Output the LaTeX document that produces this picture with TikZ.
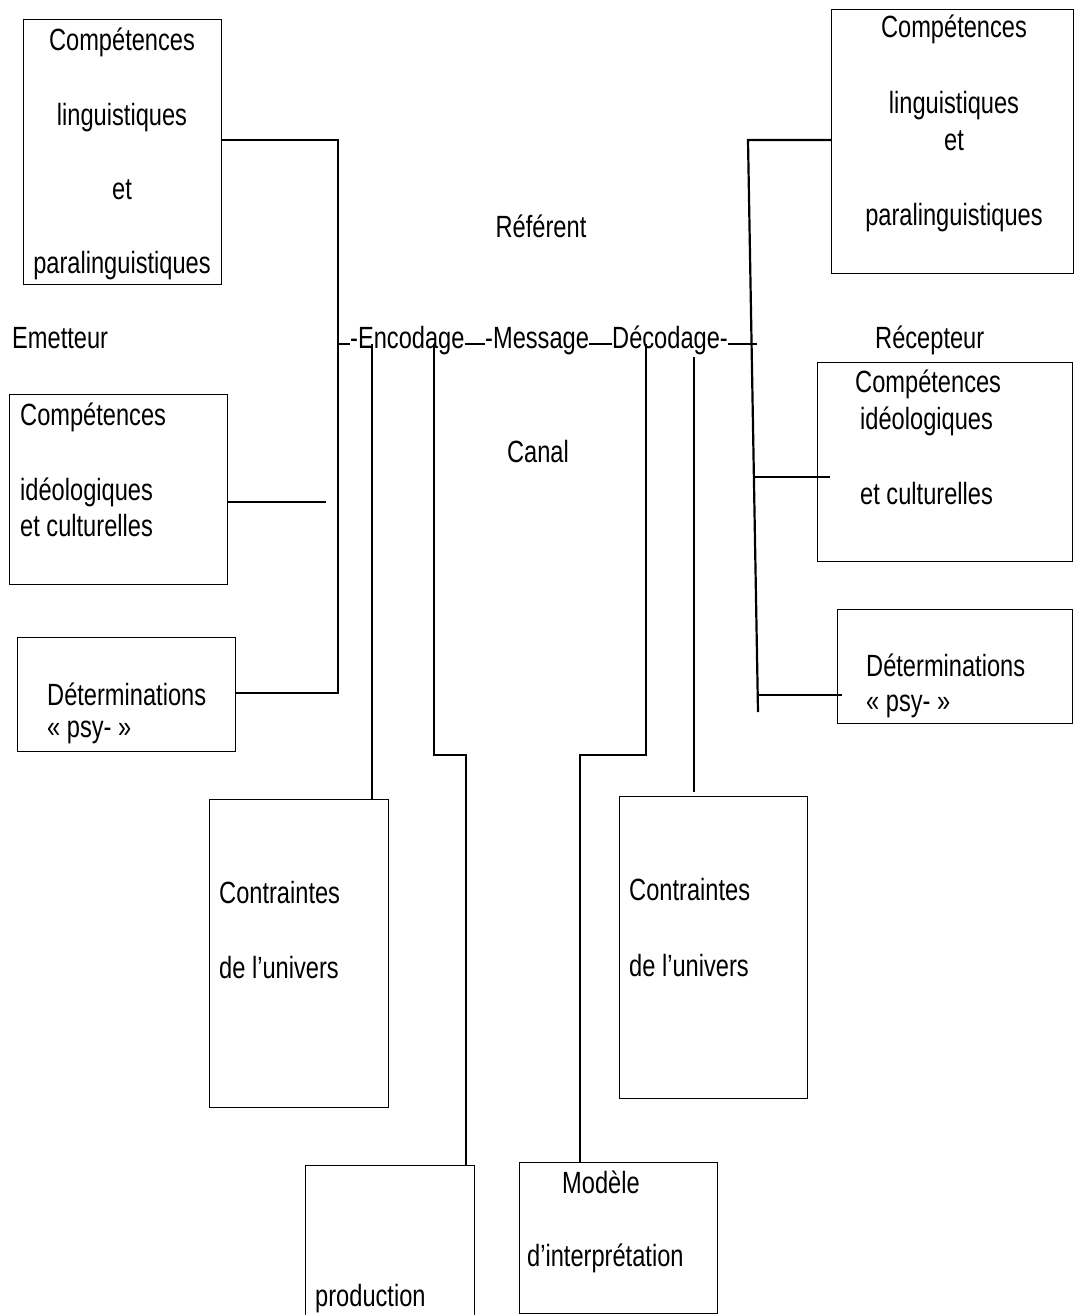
\documentclass[tikz,border=0pt]{standalone}
\usepackage{fontspec}
\newfontfamily\cf[FakeStretch=0.77]{Liberation Sans}
\begin{document}
\begin{tikzpicture}[x=1pt,y=-1pt,
  txt/.style={font={\cf\fontsize{30.7}{32}\selectfont}, inner sep=0pt, anchor=base west},
  ctxt/.style={txt, anchor=base},
  boxst/.style={draw, line width=1.3pt, rectangle, inner sep=0pt, anchor=north west},
  conn/.style={line width=2.2pt}]
\useasboundingbox (0,0) rectangle (1074,1315);
\clip (0,0) rectangle (1074,1315);
\fill[white] (0,0) rectangle (1074,1315);

% boxes
\node[boxst, minimum width=198pt, minimum height=265pt] (TL) at (23,19) {};
\node[boxst, minimum width=242pt, minimum height=264pt] (TR) at (831,9) {};
\node[boxst, minimum width=218pt, minimum height=190pt] (ML) at (9,394) {};
\node[boxst, minimum width=255pt, minimum height=199pt] (MR) at (817,362) {};
\node[boxst, minimum width=218pt, minimum height=114pt] (DL) at (17,637) {};
\node[boxst, minimum width=235pt, minimum height=114pt] (DR) at (837,609) {};
\node[boxst, minimum width=179pt, minimum height=308pt] (CL) at (209,799) {};
\node[boxst, minimum width=188pt, minimum height=302pt] (CR) at (619,796) {};
\node[boxst, minimum width=169pt, minimum height=160pt] (P) at (305,1165) {};
\node[boxst, minimum width=198pt, minimum height=151pt] (M) at (519,1162) {};

% box texts
\node[ctxt] (tl1) at (122,50) {Compétences};
\node[ctxt] (tl2) at (122,125) {linguistiques};
\node[ctxt] (tl3) at (122,199) {et};
\node[ctxt] (tl4) at (122,273) {paralinguistiques};

\node[ctxt] (tr1) at (954,37) {Compétences};
\node[ctxt] (tr2) at (954,113) {linguistiques};
\node[ctxt] (tr3) at (954,150) {et};
\node[ctxt] (tr4) at (954,225) {paralinguistiques};

\node[txt] (ml1) at (20,425) {Compétences};
\node[txt] (ml2) at (20,500) {idéologiques};
\node[txt] (ml3) at (20,536) {et culturelles};

\node[txt] (mr1) at (855,392) {Compétences};
\node[txt] (mr2) at (860,429) {idéologiques};
\node[txt] (mr3) at (860,504) {et culturelles};

\node[txt] (dl1) at (47,705) {Déterminations};
\node[txt] (dl2) at (47,737) {« psy- »};
\node[txt] (dr1) at (866,676) {Déterminations};
\node[txt] (dr2) at (866,711) {« psy- »};

\node[txt] (cl1) at (219,903) {Contraintes};
\node[txt] (cl2) at (219,978) {de l’univers};
\node[txt] (cr1) at (629,900) {Contraintes};
\node[txt] (cr2) at (629,976) {de l’univers};

\node[txt] (p1) at (315,1306) {production};
\node[txt] (m1) at (562,1193) {Modèle};
\node[txt] (m2) at (527,1266) {d’interprétation};

% free labels
\node[txt] (emet) at (12,348) {Emetteur};
\node[txt] (recep) at (875,348) {Récepteur};
\node[ctxt] (ref) at (541,237) {Référent};
\node[ctxt] (canal) at (538,462) {Canal};

% central chain
\node[txt] (enc) at (350,348) {-Encodage};
\node[txt] (msg) at (485,348) {-Message};
\node[txt] (dec) at (612,348) {Décodage-};

% junction coordinates
\coordinate (jL1) at (338,140);
\coordinate (jL2) at (338,693);
\coordinate (jL3) at (338,344);
\coordinate (mlend) at (326,502);
\coordinate (e1) at (372,344);
\coordinate (e2) at (434,344);
\coordinate (e3) at (434,755);
\coordinate (e4) at (466,755);
\coordinate (d1) at (646,344);
\coordinate (d2) at (646,755);
\coordinate (d3) at (580,755);
\coordinate (d4) at (694,357);
\coordinate (jR1) at (748,140);
\coordinate (jR2) at (758,712);
\coordinate (jR3) at (757,344);
\coordinate (jR4) at (755,477);
\coordinate (jR5) at (757,695);

% left connectors
\draw[conn] (TL.east |- jL1) -- (jL1) -- (jL2) -- (DL.east |- jL2);
\draw[conn] (jL3) -- (enc.base west |- jL3);
\draw[conn] (ML.east |- mlend) -- (mlend);

% encoding connectors
\draw[conn] (e1) -- (e1 |- CL.north);
\draw[conn] (e2) -- (e3) -- (e4) -- (e4 |- P.north);
\draw[conn] (enc.base east |- jL3) -- (msg.base west |- jL3);
\draw[conn] (msg.base east |- jL3) -- (dec.base west |- jL3);

% decoding connectors
\draw[conn] (d1) -- (d2) -- (d3) -- (d3 |- M.north);
\draw[conn] (d4) -- ([yshift=4pt]d4 |- CR.north);
\draw[conn] (dec.base east |- jR3) -- (jR3);

% right connectors
\draw[conn] (TR.west |- jR1) -- (jR1) -- (jR2);
\draw[conn] (jR4) -- (830,477);
\draw[conn] (jR5) -- (842,695);
\end{tikzpicture}
\end{document}
